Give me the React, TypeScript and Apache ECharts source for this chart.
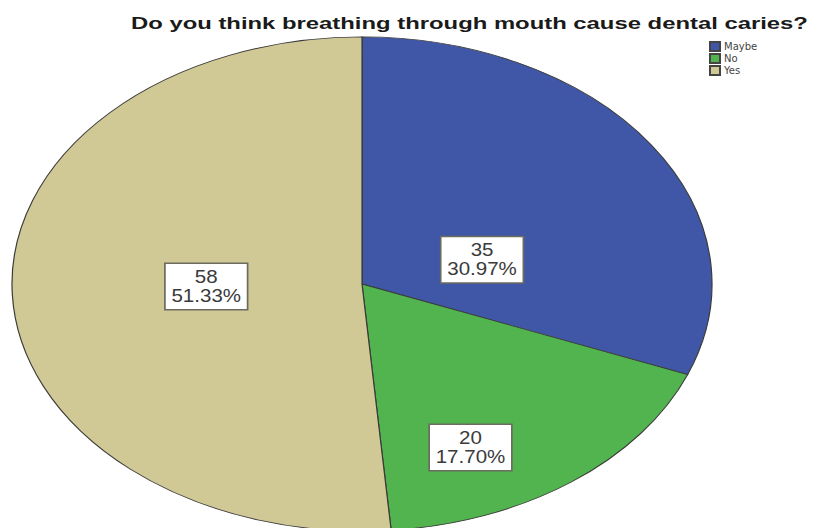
import React, { useEffect, useRef } from "react";
import * as echarts from "echarts";

// Responses to the survey question
const categories = ["Maybe", "No", "Yes"];
const counts = [35, 20, 58];
const sliceColors = ["#3f57a6", "#52b44f", "#d1c995"];
const titleText = "Do you think breathing through mouth cause dental caries?";

// Label anchors inside each slice, as fractions of the ellipse radii
const labelAnchors: [number, number][] = [
  [0.343, -0.098],
  [0.31, 0.662],
  [-0.445, 0.01],
];

const total = counts.reduce((a, b) => a + b, 0);
const cumulative = counts.map((_, i) => counts.slice(0, i).reduce((a, b) => a + b, 0));

const FONT = "Liberation Sans, Arial, sans-serif";

function measure(text: string, font: string): number {
  const ctx = document.createElement("canvas").getContext("2d");
  if (!ctx) return 0;
  ctx.font = font;
  return ctx.measureText(text).width;
}

export default function App() {
  const ref = useRef<HTMLDivElement>(null);

  useEffect(() => {
    if (!ref.current) return;
    const chart = echarts.init(ref.current, undefined, { renderer: "svg" });

    const cx = 362;
    const cy = 284;
    const rx = 350;
    const ry = 247;

    // the title is stretched wide across the top of the chart
    const titleLeft = 131;
    const titleWidth = 677;
    const natural = measure(titleText, `bold 17px "Liberation Sans"`) || 480;
    const titleScale = titleWidth / natural;

    const series = categories.map((name, i) => ({
      type: "custom" as const,
      name,
      coordinateSystem: "none",
      itemStyle: { color: sliceColors[i], borderColor: "#444", borderWidth: 1 },
      data: [counts[i]],
      renderItem: (_params: any, api: any) => {
        const v = api.value(0) as number;
        const start = -Math.PI / 2 + (2 * Math.PI * cumulative[i]) / total;
        const end = start + (2 * Math.PI * v) / total;
        const pct = ((v / total) * 100).toFixed(2) + "%";
        const [fx, fy] = labelAnchors[i];
        return {
          type: "group",
          children: [
            {
              type: "sector",
              x: cx,
              y: cy,
              scaleY: ry / rx,
              shape: { cx: 0, cy: 0, r0: 0, r: rx, startAngle: start, endAngle: end, clockwise: true },
              style: {
                fill: sliceColors[i],
                stroke: "#3a3a3a",
                lineWidth: 1.2,
                strokeNoScale: true,
              },
            },
            {
              type: "text",
              x: cx + fx * rx,
              y: cy + fy * ry,
              scaleX: 1.14,
              z2: 10,
              style: {
                text: `${v}\n${pct}`,
                fill: "#3a3a3a",
                fontFamily: FONT,
                fontSize: 18,
                lineHeight: 19,
                align: "center",
                verticalAlign: "middle",
                backgroundColor: "#ffffff",
                borderColor: "#6b6b60",
                borderWidth: 1.5,
                padding: [4, 5, 3, 5],
              },
            },
          ],
        };
      },
    }));

    chart.setOption({
      animation: false,
      legend: {
        orient: "vertical",
        left: 709,
        top: 41,
        padding: 0,
        icon: "rect",
        itemWidth: 10,
        itemHeight: 9,
        itemGap: 1,
        textStyle: {
          fontFamily: "DejaVu Sans, sans-serif",
          fontSize: 10,
          color: "#444",
          padding: [0, 0, 0, -1],
        },
        data: categories,
      },
      graphic: [
        {
          type: "text",
          x: titleLeft,
          y: 14,
          scaleX: titleScale,
          style: {
            text: titleText,
            fontFamily: FONT,
            fontWeight: "bold",
            fontSize: 17,
            fill: "#1a1a1a",
            align: "left",
            verticalAlign: "top",
          },
        },
      ],
      series,
    });

    return () => chart.dispose();
  }, []);

  return <div ref={ref} style={{ width: 813, height: 528, position: "absolute", left: 0, top: 0 }} />;
}
